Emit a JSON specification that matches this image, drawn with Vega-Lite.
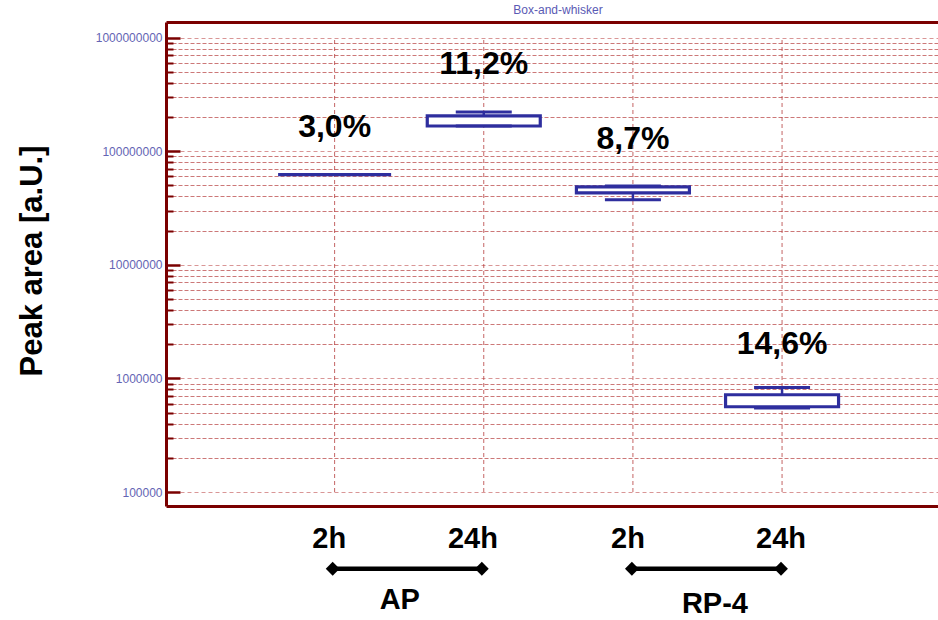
{
  "$schema": "https://vega.github.io/schema/vega-lite/v6.json",
  "width": 772,
  "height": 484,
  "autosize": "none",
  "padding": {"left": 166, "top": 22, "right": 0, "bottom": 114},
  "background": "white",
  "config": {"view": {"stroke": null}, "font": "Liberation Sans"},
  "title": {"text": "Box-and-whisker", "fontSize": 12, "fontWeight": "normal", "color": "#5a5ab4", "anchor": "middle", "dx": 6, "offset": 5, "font": "Liberation Sans"},
  "datasets": {
    "boxes": [
      {"grp": "AP", "time": "2h", "p": 1, "lo": 62300000, "q1": 62300000, "q3": 62300000, "hi": 62300000},
      {"grp": "AP", "time": "24h", "p": 2, "lo": 167000000, "q1": 167000000, "q3": 205000000, "hi": 222000000},
      {"grp": "RP-4", "time": "2h", "p": 3, "lo": 37500000, "q1": 43000000, "q3": 48500000, "hi": 49400000},
      {"grp": "RP-4", "time": "24h", "p": 4, "lo": 548000, "q1": 563000, "q3": 718000, "hi": 834000}
    ],
    "cv": [
      {"p": 1, "label": "3,0%", "y": 134000000},
      {"p": 2, "label": "11,2%", "y": 476000000},
      {"p": 3, "label": "8,7%", "y": 104000000},
      {"p": 4, "label": "14,6%", "y": 1630000}
    ],
    "cats": [
      {"p": 1}, {"p": 2}, {"p": 3}, {"p": 4}
    ],
    "timelabels": [
      {"p": 0.964, "label": "2h", "y": 32400},
      {"p": 1.927, "label": "24h", "y": 32400},
      {"p": 2.967, "label": "2h", "y": 32400},
      {"p": 3.993, "label": "24h", "y": 32400}
    ],
    "brackets": [
      {"grp": "AP", "p": 0.987, "y": 21100},
      {"grp": "AP", "p": 1.987, "y": 21100},
      {"grp": "RP-4", "p": 2.993, "y": 21100},
      {"grp": "RP-4", "p": 3.993, "y": 21100}
    ],
    "groups": [
      {"p": 1.437, "label": "AP", "y": 9400},
      {"p": 3.55, "label": "RP-4", "y": 8650}
    ]
  },
  "layer": [
    {
      "data": {"name": "cats"},
      "mark": {"type": "rule", "color": "#b03030", "strokeWidth": 1, "strokeDash": [4, 3], "opacity": 0.75},
      "encoding": {
        "x": {"field": "p", "type": "quantitative", "scale": {"domain": [-0.097, 5.012], "nice": false, "zero": false},
              "axis": {"orient": "top", "title": null, "labels": false, "ticks": false, "grid": false, "domain": true, "domainColor": "#7a0000", "domainWidth": 3}},
        "y": {"datum": 100000, "type": "quantitative", "scale": {"type": "log", "domain": [75300, 1375000000], "nice": false},
              "axis": {"orient": "left", "title": null, "labels": false, "domain": false,
                       "values": [200000, 300000, 400000, 500000, 600000, 700000, 800000, 900000, 2000000, 3000000, 4000000, 5000000, 6000000, 7000000, 8000000, 9000000, 20000000, 30000000, 40000000, 50000000, 60000000, 70000000, 80000000, 90000000, 200000000, 300000000, 400000000, 500000000, 600000000, 700000000, 800000000, 900000000],
                       "ticks": true, "tickSize": -7, "tickColor": "#7a0000", "tickWidth": 2,
                       "grid": true, "gridColor": "#b03030", "gridOpacity": 0.65, "gridDash": [4, 2], "gridWidth": 1}},
        "y2": {"datum": 1000000000}
      }
    },
    {
      "data": {"name": "boxes"},
      "mark": {"type": "rule", "color": "#2e2e9e", "strokeWidth": 2.5},
      "encoding": {
        "x": {"field": "p", "type": "quantitative", "axis": {"orient": "bottom", "title": null, "labels": false, "ticks": false, "grid": false, "domain": true, "domainColor": "#7a0000", "domainWidth": 3}},
        "y": {"field": "hi", "type": "quantitative",
              "axis": {"orient": "left", "title": "Peak area [a.U.]", "titleFontSize": 31, "titleFontWeight": "bold", "titleColor": "black", "titleFont": "Liberation Sans",
                       "titleX": -134, "titleY": 238.5, "titleAngle": -90, "titleAlign": "center", "titleBaseline": "middle",
                       "values": [100000, 1000000, 10000000, 100000000, 1000000000], "format": "d",
                       "labelFontSize": 12, "labelColor": "#6464b4", "labelFont": "Liberation Sans", "labelPadding": 18,
                       "ticks": true, "tickSize": -14, "tickColor": "#7a0000", "tickWidth": 2.5,
                       "domain": true, "domainColor": "#7a0000", "domainWidth": 3,
                       "grid": true, "gridColor": "#c05050", "gridOpacity": 0.6, "gridDash": [4, 3], "gridWidth": 1}},
        "y2": {"field": "q3"}
      }
    },
    {
      "data": {"name": "boxes"},
      "mark": {"type": "rule", "color": "#2e2e9e", "strokeWidth": 2.5},
      "encoding": {
        "x": {"field": "p", "type": "quantitative", "axis": null},
        "y": {"field": "lo", "type": "quantitative", "axis": null},
        "y2": {"field": "q1"}
      }
    },
    {
      "data": {"name": "boxes"},
      "mark": {"type": "bar", "size": 113, "fill": "white", "stroke": "#2e2e9e", "strokeWidth": 3.2},
      "encoding": {
        "x": {"field": "p", "type": "quantitative", "axis": null},
        "y": {"field": "q1", "type": "quantitative", "axis": null},
        "y2": {"field": "q3"}
      }
    },
    {
      "data": {"name": "boxes"},
      "mark": {"type": "tick", "orient": "horizontal", "size": 56, "thickness": 3, "color": "#2e2e9e", "opacity": 1},
      "encoding": {
        "x": {"field": "p", "type": "quantitative", "axis": null},
        "y": {"field": "hi", "type": "quantitative", "axis": null}
      }
    },
    {
      "data": {"name": "boxes"},
      "mark": {"type": "tick", "orient": "horizontal", "size": 56, "thickness": 3, "color": "#2e2e9e", "opacity": 1},
      "encoding": {
        "x": {"field": "p", "type": "quantitative", "axis": null},
        "y": {"field": "lo", "type": "quantitative", "axis": null}
      }
    },
    {
      "data": {"name": "cv"},
      "mark": {"type": "text", "fontSize": 32, "fontWeight": "bold", "color": "black", "baseline": "alphabetic", "align": "center", "font": "Liberation Sans"},
      "encoding": {
        "x": {"field": "p", "type": "quantitative", "axis": null},
        "y": {"field": "y", "type": "quantitative", "axis": null},
        "text": {"field": "label"}
      }
    },
    {
      "data": {"name": "timelabels"},
      "mark": {"type": "text", "fontSize": 29, "fontWeight": "bold", "color": "black", "baseline": "alphabetic", "align": "center", "font": "Liberation Sans"},
      "encoding": {
        "x": {"field": "p", "type": "quantitative", "axis": null},
        "y": {"field": "y", "type": "quantitative", "axis": null},
        "text": {"field": "label"}
      }
    },
    {
      "data": {"name": "brackets"},
      "mark": {"type": "line", "color": "black", "strokeWidth": 4.5, "point": {"shape": "diamond", "size": 190, "filled": true, "color": "black", "opacity": 1}},
      "encoding": {
        "x": {"field": "p", "type": "quantitative", "axis": null},
        "y": {"field": "y", "type": "quantitative", "axis": null},
        "detail": {"field": "grp"}
      }
    },
    {
      "data": {"name": "groups"},
      "mark": {"type": "text", "fontSize": 29, "fontWeight": "bold", "color": "black", "baseline": "alphabetic", "align": "center", "font": "Liberation Sans"},
      "encoding": {
        "x": {"field": "p", "type": "quantitative", "axis": null},
        "y": {"field": "y", "type": "quantitative", "axis": null},
        "text": {"field": "label"}
      }
    }
  ],
  "resolve": {"axis": {"x": "independent", "y": "independent"}}
}
